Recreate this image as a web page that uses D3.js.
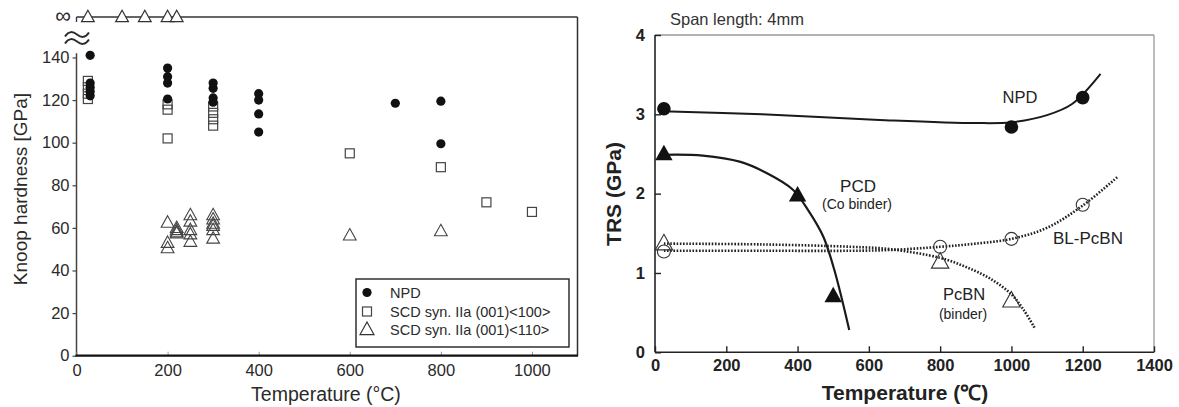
<!DOCTYPE html>
<html><head><meta charset="utf-8">
<script src="https://cdn.jsdelivr.net/npm/d3@7"></script>
<style>
body{margin:0;background:#fff;}
svg{display:block;font-family:"Liberation Sans",Arial,Helvetica,sans-serif;}
</style></head>
<body><svg id="c" width="1179" height="407"></svg>
<script>
// ---------- Left chart data: Knoop hardness vs temperature ----------
const leftXTicks = [0, 200, 400, 600, 800, 1000];
const leftYTicks = [0, 20, 40, 60, 80, 100, 120, 140];
const npdHardness = [
  [30,141],[30,128],[30,126],[30,124],[30,122],
  [200,135],[200,131],[200,128],[200,120.5],
  [300,128],[300,125.5],[300,121],[300,119],
  [400,123],[400,120],[400,113.5],[400,105],
  [700,118.5],[800,119.5],[800,99.5]
];
const scd100Hardness = [
  [25,129],[25,126],[25,123],[25,120.5],
  [200,118],[200,115.5],[200,102],
  [300,117],[300,114],[300,111],[300,108],
  [600,95],[800,88.5],[900,72],[1000,67.5]
];
const scd110Hardness = [
  [200,62.5],[200,53],[200,50.5],
  [220,60],[220,59],[220,58],[220,57.5],
  [250,66],[250,63],[250,59],[250,57],[250,53.5],
  [300,66],[300,64],[300,62],[300,61],[300,59],[300,55],
  [600,56.5],[800,58.5]
];
const scd110InfiniteTemps = [25, 100, 150, 200, 220];
const legendLabels = ["NPD", "SCD syn. IIa (001)<100>", "SCD syn. IIa (001)<110>"];

// ---------- Right chart data: TRS vs temperature ----------
const rightXTicks = [0, 200, 400, 600, 800, 1000, 1200, 1400];
const rightYTicks = [0, 1, 2, 3, 4];
const npdTRSPoints = [[25,3.07],[1000,2.84],[1200,3.21]];
const npdTRSCurve = [[20,3.04],[300,3.0],[630,2.93],[900,2.89],[1000,2.9],[1100,2.99],[1170,3.13],[1250,3.51]];
const pcdTRSPoints = [[25,2.5],[400,1.98],[500,0.71]];
const pcdTRSCurve = [[23,2.49],[134,2.48],[240,2.4],[313,2.26],[387,2.05],[430,1.79],[472,1.46],[503,1.04],[545,0.28]];
const blPcbnPoints = [[25,1.27],[800,1.33],[1000,1.43],[1200,1.86]];
const blPcbnCurve = [[25,1.28],[300,1.28],[550,1.28],[660,1.29],[800,1.33],[900,1.37],[1000,1.43],[1100,1.57],[1200,1.85],[1300,2.22]];
const pcbnPoints = [[25,1.37],[800,1.14],[1000,0.65]];
const pcbnCurve = [[25,1.37],[300,1.36],[550,1.33],[660,1.3],[800,1.19],[870,1.08],[940,0.93],[1000,0.73],[1035,0.53],[1066,0.3]];

const svg = d3.select("#c");
const INF_LEVEL = 159;

// ================= LEFT CHART =================
const xL = d3.scaleLinear().domain([0, 1100]).range([76.5, 577.5]);
const yL = d3.scaleLinear().domain([0, INF_LEVEL]).range([355.7, 17]);
const gL = svg.append("g");
const txtCol = "#2a2a2a";
const ff = "Liberation Sans, Arial, sans-serif";

// frame top (infinity line) and right
gL.append("line").attr("x1", xL(0)).attr("x2", xL(1100)).attr("y1", yL(INF_LEVEL)).attr("y2", yL(INF_LEVEL))
  .attr("stroke", "#333").attr("stroke-width", 1.3);
gL.append("line").attr("x1", xL(1100)).attr("x2", xL(1100)).attr("y1", yL(INF_LEVEL)).attr("y2", yL(0))
  .attr("stroke", "#333").attr("stroke-width", 1.5);
gL.append("line").attr("x1", xL(0)).attr("x2", xL(0)).attr("y1", yL(INF_LEVEL)).attr("y2", yL(INF_LEVEL) + 5)
  .attr("stroke", "#333").attr("stroke-width", 1.3);

// y axis
const yAxL = gL.append("g").attr("transform", `translate(${xL(0)},0)`)
  .call(d3.axisLeft(yL).tickValues(leftYTicks).tickSize(4).tickPadding(3));
yAxL.select(".domain").remove();
gL.append("line").attr("x1", xL(0)).attr("x2", xL(0)).attr("y1", yL(142)).attr("y2", yL(0))
  .attr("stroke", "#444").attr("stroke-width", 1.5);
yAxL.selectAll(".tick line").attr("stroke", "#444").attr("stroke-width", 1.2);
yAxL.selectAll(".tick text").attr("font-size", 16.5).attr("fill", txtCol).attr("font-family", ff);

// x axis
const xAxL = gL.append("g").attr("transform", `translate(0,${yL(0)})`)
  .call(d3.axisBottom(xL).tickValues(leftXTicks).tickSize(-4).tickPadding(8.5).tickFormat(d3.format("d")));
xAxL.select(".domain").remove();
xAxL.selectAll(".tick line").attr("stroke", "#999").attr("stroke-width", 1);
xAxL.selectAll(".tick text").attr("font-size", 16.5).attr("fill", txtCol).attr("font-family", ff);
gL.append("line").attr("x1", xL(0) - 1).attr("x2", xL(1100) + 0.5).attr("y1", yL(0)).attr("y2", yL(0))
  .attr("stroke", "#111").attr("stroke-width", 2.2);

// infinity label & axis-break mark
gL.append("text").attr("x", 63).attr("y", yL(INF_LEVEL) + 6).attr("text-anchor", "middle")
  .attr("font-size", 22).attr("fill", txtCol).text("∞");
const brk = gL.append("g").attr("fill", "none").attr("stroke", txtCol).attr("stroke-width", 2);
[34.5, 41.5].forEach(cy => {
  brk.append("path").attr("d", `M65,${cy + 2} C69,${cy - 4} 73,${cy - 3} 77,${cy} S85,${cy + 4} 89,${cy - 2}`);
});

// axis titles
gL.append("text").attr("transform", `translate(27,189) rotate(-90)`).attr("text-anchor", "middle")
  .attr("font-size", 19).attr("fill", txtCol).text("Knoop hardness [GPa]");
gL.append("text").attr("x", 326).attr("y", 401).attr("text-anchor", "middle")
  .attr("font-size", 19.5).attr("fill", txtCol).text("Temperature (°C)");

const triPath = (s) => `M0,${-s*0.62}L${s*0.58},${s*0.42}L${-s*0.58},${s*0.42}Z`;

// SCD <110> triangles
gL.append("g").selectAll("path").data(scd110Hardness).join("path")
  .attr("transform", d => `translate(${xL(d[0])},${yL(d[1])})`)
  .attr("d", triPath(11)).attr("fill", "none").attr("stroke", "#444").attr("stroke-width", 1.1);
gL.append("g").selectAll("path").data(scd110InfiniteTemps).join("path")
  .attr("transform", d => `translate(${xL(d)},${yL(INF_LEVEL)})`)
  .attr("d", triPath(11)).attr("fill", "#fff").attr("stroke", "#333").attr("stroke-width", 1.2);
// SCD <100> squares
gL.append("g").selectAll("rect").data(scd100Hardness).join("rect")
  .attr("x", d => xL(d[0]) - 4.5).attr("y", d => yL(d[1]) - 4.5).attr("width", 9).attr("height", 9)
  .attr("fill", "none").attr("stroke", "#444").attr("stroke-width", 1.2);
// NPD circles
gL.append("g").selectAll("circle").data(npdHardness).join("circle")
  .attr("cx", d => xL(d[0])).attr("cy", d => yL(d[1])).attr("r", 4.6).attr("fill", "#111");

// legend
const lg = gL.append("g");
lg.append("rect").attr("x", 356).attr("y", 279).attr("width", 213).attr("height", 68)
  .attr("fill", "#fff").attr("stroke", "#222").attr("stroke-width", 1.4);
const ly = [292.5, 311.5, 329.5];
lg.append("circle").attr("cx", 367).attr("cy", ly[0]).attr("r", 4.6).attr("fill", "#111");
lg.append("rect").attr("x", 362.5).attr("y", ly[1] - 4.5).attr("width", 9).attr("height", 9)
  .attr("fill", "none").attr("stroke", "#444").attr("stroke-width", 1.2);
lg.append("path").attr("transform", `translate(367,${ly[2]})`).attr("d", triPath(12))
  .attr("fill", "none").attr("stroke", "#333").attr("stroke-width", 1.2);
lg.selectAll("text.l").data(legendLabels).join("text")
  .attr("x", 390).attr("y", (d, i) => ly[i] + 5).attr("font-size", 14.5).attr("fill", txtCol).text(d => d);

// ================= RIGHT CHART =================
const xR = d3.scaleLinear().domain([0, 1400]).range([655, 1154]);
const yR = d3.scaleLinear().domain([0, 4]).range([352.3, 35]);
const gR = svg.append("g");

// frame
gR.append("line").attr("x1", xR(0)).attr("x2", xR(1400)).attr("y1", yR(4)).attr("y2", yR(4))
  .attr("stroke", "#999").attr("stroke-width", 1.3);
gR.append("line").attr("x1", xR(1400)).attr("x2", xR(1400)).attr("y1", yR(4)).attr("y2", yR(0))
  .attr("stroke", "#999").attr("stroke-width", 1.3);

const yAxR = gR.append("g").attr("transform", `translate(${xR(0)},0)`)
  .call(d3.axisLeft(yR).tickValues(rightYTicks).tickSize(-6).tickPadding(10).tickFormat(d3.format("d")));
yAxR.select(".domain").attr("stroke", "#222").attr("stroke-width", 1.6).attr("d", `M0,${yR(4)}V${yR(0)}`);
yAxR.selectAll(".tick line").attr("stroke", "#222").attr("stroke-width", 1.4);
yAxR.selectAll(".tick text").attr("font-size", 16.5).attr("font-weight", "bold").attr("fill", "#222").attr("font-family", ff);

const xAxR = gR.append("g").attr("transform", `translate(0,${yR(0)})`)
  .call(d3.axisBottom(xR).tickValues(rightXTicks).tickSize(-6).tickPadding(7).tickFormat(d3.format("d")));
xAxR.select(".domain").attr("stroke", "#222").attr("stroke-width", 1.6).attr("d", `M${xR(0)},0H${xR(1400)}`);
xAxR.selectAll(".tick line").attr("stroke", "#222").attr("stroke-width", 1.4);
xAxR.selectAll(".tick text").attr("font-size", 16.5).attr("font-weight", "bold").attr("fill", "#222").attr("font-family", ff);

gR.append("text").attr("transform", `translate(621,194) rotate(-90)`).attr("text-anchor", "middle")
  .attr("font-size", 21).attr("font-weight", "bold").attr("fill", "#222").text("TRS (GPa)");
gR.append("text").attr("x", 905).attr("y", 400).attr("text-anchor", "middle")
  .attr("font-size", 21).attr("font-weight", "bold").attr("fill", "#222").text("Temperature (℃)");
gR.append("text").attr("x", 670).attr("y", 25).attr("font-size", 16.5).attr("fill", "#333").text("Span length: 4mm");

const lineR = d3.line().x(d => xR(d[0])).y(d => yR(d[1])).curve(d3.curveCatmullRom.alpha(0.5));
gR.append("path").attr("d", lineR(npdTRSCurve)).attr("fill", "none").attr("stroke", "#1a1a1a").attr("stroke-width", 2);
gR.append("path").attr("d", lineR(pcdTRSCurve)).attr("fill", "none").attr("stroke", "#1a1a1a").attr("stroke-width", 2.2);
gR.append("path").attr("d", lineR(blPcbnCurve)).attr("fill", "none").attr("stroke", "#222").attr("stroke-width", 2.6).attr("stroke-dasharray", "1.6 1.6");
gR.append("path").attr("d", lineR(pcbnCurve)).attr("fill", "none").attr("stroke", "#222").attr("stroke-width", 2.6).attr("stroke-dasharray", "1.6 1.6");

gR.append("g").selectAll("circle").data(npdTRSPoints).join("circle")
  .attr("cx", d => xR(d[0])).attr("cy", d => yR(d[1])).attr("r", 6.8).attr("fill", "#111");
gR.append("g").selectAll("path").data(pcdTRSPoints).join("path")
  .attr("transform", d => `translate(${xR(d[0])},${yR(d[1])})`).attr("d", triPath(15)).attr("fill", "#111");
gR.append("g").selectAll("circle").data(blPcbnPoints).join("circle")
  .attr("cx", d => xR(d[0])).attr("cy", d => yR(d[1])).attr("r", 6.5).attr("fill", "none").attr("stroke", "#333").attr("stroke-width", 1.1);
gR.append("g").selectAll("path").data(pcbnPoints).join("path")
  .attr("transform", d => `translate(${xR(d[0])},${yR(d[1])})`).attr("d", triPath(15))
  .attr("fill", "none").attr("stroke", "#333").attr("stroke-width", 1.1);

// curve labels
const lab = (x, y, t, s) => gR.append("text").attr("x", x).attr("y", y).attr("text-anchor", "middle")
  .attr("font-size", s).attr("fill", "#222").text(t);
lab(1020, 103, "NPD", 16.5);
lab(858, 191.5, "PCD", 17);
lab(857, 208.5, "(Co binder)", 14);
lab(1088, 243.5, "BL-PcBN", 17);
lab(964, 300, "PcBN", 16.5);
lab(963, 318.5, "(binder)", 14);
</script></body></html>
